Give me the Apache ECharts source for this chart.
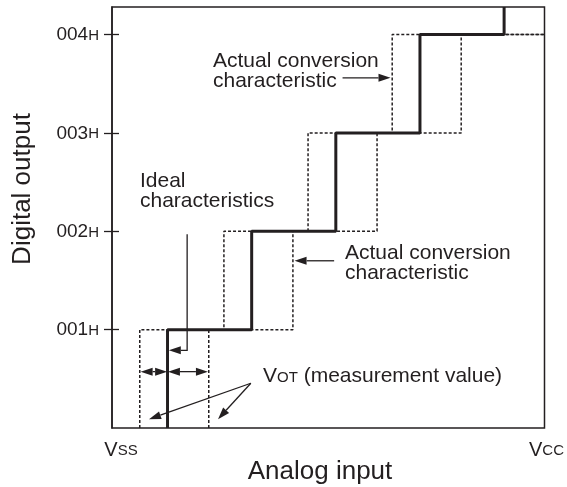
<!DOCTYPE html>
<html>
<head>
<meta charset="utf-8">
<script src="https://cdn.jsdelivr.net/npm/echarts@6/dist/echarts.min.js"></script>
<style>
html, body { margin: 0; padding: 0; background: #fff; }
#chart { width: 567px; height: 487px; }
</style>
</head>
<body>
<div id="chart"></div>
<script>
// x: analog input in LSB steps from Vss, y: output code
var xMax = 5.14;
var yMax = 4.28;
var codes = [1, 2, 3, 4];
var codeLabels = ['001', '002', '003', '004'];
var idealSteps = [0.66, 1.66, 2.66, 3.66, 4.66];
var actualLowSteps = [0.33, 1.33, 2.33, 3.33];
var actualHighSteps = [1.15, 2.15, 3.15, 4.15];

// annotation arrows, [from, to] in data units
var arrowsOneWay = [
  [[2.74, 3.56], [3.31, 3.56]],
  [[2.64, 1.70], [2.17, 1.70]],
  [[1.65, 0.455], [0.44, 0.09]],
  [[1.65, 0.455], [1.26, 0.09]]
];
var arrowsTwoWay = [
  [[0.34, 0.573], [0.655, 0.573]],
  [[0.665, 0.573], [1.14, 0.573]]
];
var idealLeader = [[0.893, 1.97], [0.893, 0.79], [0.675, 0.79]];

var font = '"Liberation Sans", Arial, Helvetica, sans-serif';
var ink = '#231f20';

function stepLine(steps, endX) {
  var pts = [];
  for (var i = 0; i < steps.length; i++) {
    pts.push([steps[i], i]);
    pts.push([steps[i], Math.min(i + 1, yMax)]);
  }
  if (endX != null) pts.push([endX, steps.length]);
  return pts;
}

var chart = echarts.init(document.getElementById('chart'));

var option = {
  animation: false,
  grid: { left: 112, right: 21, top: 7, bottom: 59, show: true, borderColor: ink, borderWidth: 1.5 },
  xAxis: {
    type: 'value', min: 0, max: xMax,
    axisLine: { show: false }, axisTick: { show: false }, splitLine: { show: false },
    axisLabel: {
      customValues: [0, xMax], margin: 10, color: ink, fontFamily: font,
      formatter: function (v) { return v === 0 ? '{vl|V}{s|SS}' : '{vr|V}{s|CC}'; },
      rich: {
        vl: { fontSize: 20, lineHeight: 22, verticalAlign: 'bottom', fontFamily: font, color: ink, padding: [0, 0, 0, 18] },
        vr: { fontSize: 20, lineHeight: 22, verticalAlign: 'bottom', fontFamily: font, color: ink, padding: [0, 0, 0, 4] },
        s: { fontSize: 15, lineHeight: 22, verticalAlign: 'bottom', fontFamily: font, color: ink, padding: [0, 0, 1.5, 0] }
      }
    }
  },
  yAxis: [{
    type: 'value', min: 0, max: yMax, position: 'left',
    axisLine: { show: true, lineStyle: { color: ink, width: 1.5 } },
    axisTick: { show: true, inside: false, length: 8, customValues: codes, lineStyle: { color: ink, width: 1.3 } },
    splitLine: { show: false },
    axisLabel: {
      customValues: codes, margin: 13, color: ink, fontFamily: font,
      formatter: function (v) { return '{d|' + codeLabels[codes.indexOf(v)] + '}{h|H}'; },
      rich: {
        d: { fontSize: 19, lineHeight: 20, verticalAlign: 'bottom', fontFamily: font, color: ink },
        h: { fontSize: 15, lineHeight: 20, verticalAlign: 'bottom', fontFamily: font, color: ink, padding: [0, 0, 1.2, 0] }
      }
    }
  }, {
    type: 'value', min: 0, max: yMax, position: 'left',
    axisLine: { show: false }, axisLabel: { show: false }, splitLine: { show: false },
    axisTick: { show: true, inside: true, length: 7, customValues: codes, lineStyle: { color: ink, width: 1.3 } }
  }],
  series: [
    { type: 'line', data: stepLine(actualLowSteps, xMax), symbol: 'none', silent: true,
      lineStyle: { color: ink, width: 1.5, type: [3, 2] } },
    { type: 'line', data: stepLine(actualHighSteps, xMax), symbol: 'none', silent: true,
      lineStyle: { color: ink, width: 1.5, type: [3, 2] } },
    { type: 'line', data: stepLine(idealSteps), symbol: 'none', silent: true,
      lineStyle: { color: ink, width: 3 } }
  ]
};
chart.setOption(option);

function px(p) { return chart.convertToPixel({ gridIndex: 0 }, p); }

function head(tip, from) {
  var dx = tip[0] - from[0], dy = tip[1] - from[1];
  var len = Math.sqrt(dx * dx + dy * dy);
  var ux = dx / len, uy = dy / len, L = 12, W = 4;
  var bx = tip[0] - ux * L, by = tip[1] - uy * L;
  return {
    base: [bx, by],
    el: { type: 'polygon', silent: true, shape: { points: [tip, [bx - uy * W, by + ux * W], [bx + uy * W, by - ux * W]] },
      style: { fill: ink } }
  };
}

var g = [];
arrowsOneWay.concat(arrowsTwoWay).forEach(function (a, i) {
  var p0 = px(a[0]), p1 = px(a[1]);
  var h1 = head(p1, p0);
  var start = p0;
  if (i >= arrowsOneWay.length) {
    var h0 = head(p0, p1);
    g.push(h0.el);
    start = h0.base;
  }
  g.push(h1.el);
  g.push({ type: 'polyline', silent: true, shape: { points: [start, h1.base] }, style: { stroke: ink, lineWidth: 1.3, fill: null } });
});
var lp = idealLeader.map(px);
var lh = head(lp[2], lp[1]);
g.push(lh.el);
g.push({ type: 'polyline', silent: true, shape: { points: [lp[0], lp[1], lh.base] }, style: { stroke: ink, lineWidth: 1.3, fill: null } });

function txt(x, y, s) {
  return { type: 'text', silent: true, x: x, y: y,
    style: { text: s, font: '21px ' + font, fill: ink, lineHeight: 20, verticalAlign: 'top' } };
}
g.push(txt(140, 171, 'Ideal\ncharacteristics'));
g.push(txt(213, 51, 'Actual conversion\ncharacteristic'));
g.push(txt(345, 243, 'Actual conversion\ncharacteristic'));
g.push({ type: 'text', silent: true, x: 263, y: 365,
  style: { text: '{a|V}{b|OT}{a| (measurement value)}', fill: ink, verticalAlign: 'top',
    rich: {
      a: { fontSize: 21, lineHeight: 22, verticalAlign: 'bottom', fontFamily: font, color: ink },
      b: { fontSize: 15, lineHeight: 22, verticalAlign: 'bottom', fontFamily: font, color: ink, padding: [0, 0, 1.3, 0] }
    } } });
g.push({ type: 'text', silent: true, x: 320, y: 472,
  style: { text: 'Analog input', font: '26px ' + font, fill: ink, align: 'center', verticalAlign: 'middle' } });
g.push({ type: 'text', silent: true, x: 23, y: 189, rotation: Math.PI / 2,
  style: { text: 'Digital output', font: '26px ' + font, fill: ink, align: 'center', verticalAlign: 'middle' } });

chart.setOption({ graphic: g });
</script>
</body>
</html>
